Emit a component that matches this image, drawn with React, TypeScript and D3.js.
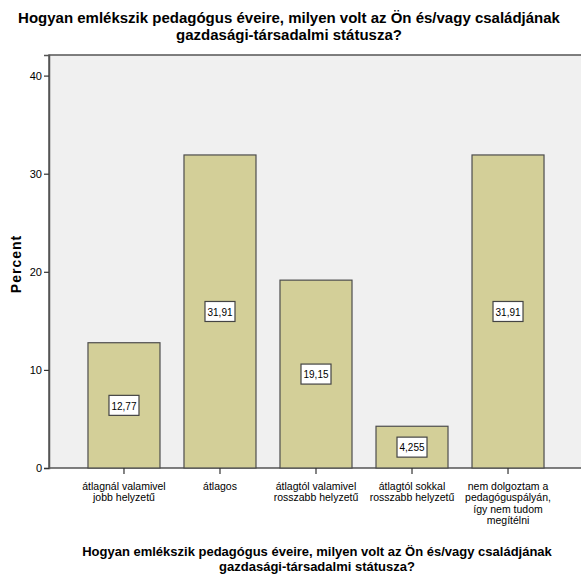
import React, { useEffect, useRef } from 'react';
import * as d3 from 'd3';

const categories = [
  ['átlagnál valamivel', 'jobb helyzetű'],
  ['átlagos'],
  ['átlagtól valamivel', 'rosszabb helyzetű'],
  ['átlagtól sokkal', 'rosszabb helyzetű'],
  ['nem dolgoztam a', 'pedagóguspályán,', 'így nem tudom', 'megítélni'],
];
const percents = [12.77, 31.91, 19.15, 4.255, 31.91];
const valueLabels = ['12,77', '31,91', '19,15', '4,255', '31,91'];
const yTicks = [0, 10, 20, 30, 40];
const titleLines = [
  'Hogyan emlékszik pedagógus éveire, milyen volt az Ön és/vagy családjának',
  'gazdasági-társadalmi státusza?',
];

const W = 581;
const H = 576;
const FONT = 'Arial, "Liberation Sans", sans-serif';

export default function App() {
  const ref = useRef<SVGSVGElement>(null);

  useEffect(() => {
    const svg = d3.select(ref.current);
    svg.selectAll('*').remove();

    const left = 49, right = 583, top = 55, bottom = 468;

    const x = d3.scaleBand<number>()
      .domain(d3.range(percents.length))
      .range([left, right])
      .paddingInner(0.25)
      .paddingOuter(0.406);
    const y = d3.scaleLinear().domain([0, 42.1]).range([bottom, top]);

    // plot background
    svg.append('rect')
      .attr('x', left).attr('y', top)
      .attr('width', right - left).attr('height', bottom - top)
      .attr('fill', '#f0f0f0')
      .attr('stroke', '#555').attr('stroke-width', 1.5);

    // bars
    svg.selectAll('.bar')
      .data(percents)
      .enter().append('rect')
      .attr('class', 'bar')
      .attr('x', (d, i) => x(i)!)
      .attr('y', (d) => y(d))
      .attr('width', x.bandwidth())
      .attr('height', (d) => bottom - y(d))
      .attr('fill', '#d3cf98')
      .attr('stroke', '#4d4d4d').attr('stroke-width', 1.2);

    // value labels
    const lab = svg.selectAll('.vlab')
      .data(percents)
      .enter().append('g')
      .attr('class', 'vlab')
      .attr('transform', (d, i) => `translate(${x(i)! + x.bandwidth() / 2},${(y(d) + bottom) / 2})`);
    lab.append('rect')
      .attr('x', -15).attr('y', -10).attr('width', 30).attr('height', 20)
      .attr('fill', '#fff').attr('stroke', '#444').attr('stroke-width', 1.2);
    lab.append('text')
      .attr('text-anchor', 'middle').attr('dy', '0.36em')
      .attr('font-family', FONT).attr('font-size', 11.5)
      .attr('textLength', 25).attr('lengthAdjust', 'spacingAndGlyphs')
      .text((d, i) => valueLabels[i]);

    // y axis
    const yAxis = d3.axisLeft(y).tickValues(yTicks).tickSize(5).tickPadding(2).tickFormat(d3.format('d'));
    const ya = svg.append('g').attr('transform', `translate(${left},0)`).call(yAxis);
    ya.select('.domain').attr('stroke', '#555').attr('stroke-width', 1.5);
    ya.selectAll('.tick line').attr('stroke', '#333').attr('stroke-width', 1.2);
    ya.selectAll('.tick text').attr('font-family', FONT).attr('font-size', 11).attr('fill', '#000');

    // x axis
    const xAxis = d3.axisBottom(x).tickSize(6).tickFormat(() => '');
    const xa = svg.append('g').attr('transform', `translate(0,${bottom})`).call(xAxis);
    xa.select('.domain').remove();
    xa.selectAll('.tick line').attr('stroke', '#333').attr('stroke-width', 1.2);

    categories.forEach((lines, i) => {
      const cx = x(i)! + x.bandwidth() / 2;
      const t = svg.append('text')
        .attr('text-anchor', 'middle')
        .attr('font-family', FONT).attr('font-size', 10.5)
        .attr('x', cx).attr('y', 490);
      lines.forEach((ln, j) => {
        t.append('tspan').attr('x', cx).attr('dy', j === 0 ? 0 : 11.4).text(ln);
      });
    });

    // y label
    svg.append('text')
      .attr('transform', 'translate(21,264) rotate(-90)')
      .attr('text-anchor', 'middle')
      .attr('font-family', FONT).attr('font-size', 14).attr('font-weight', 'bold')
      .attr('letter-spacing', 1)
      .text('Percent');

    // top title
    titleLines.forEach((ln, j) => {
      svg.append('text')
        .attr('x', 289).attr('y', 23 + j * 17)
        .attr('text-anchor', 'middle')
        .attr('font-family', FONT).attr('font-size', 15).attr('font-weight', 'bold')
        .text(ln);
    });

    // bottom title
    titleLines.forEach((ln, j) => {
      svg.append('text')
        .attr('x', 317).attr('y', 556 + j * 15)
        .attr('text-anchor', 'middle')
        .attr('font-family', FONT).attr('font-size', 13).attr('font-weight', 'bold')
        .text(ln);
    });
  }, []);

  return (
    <svg ref={ref} width={W} height={H}
      style={{ position: 'absolute', left: 0, top: 0, background: '#fff' }} />
  );
}
